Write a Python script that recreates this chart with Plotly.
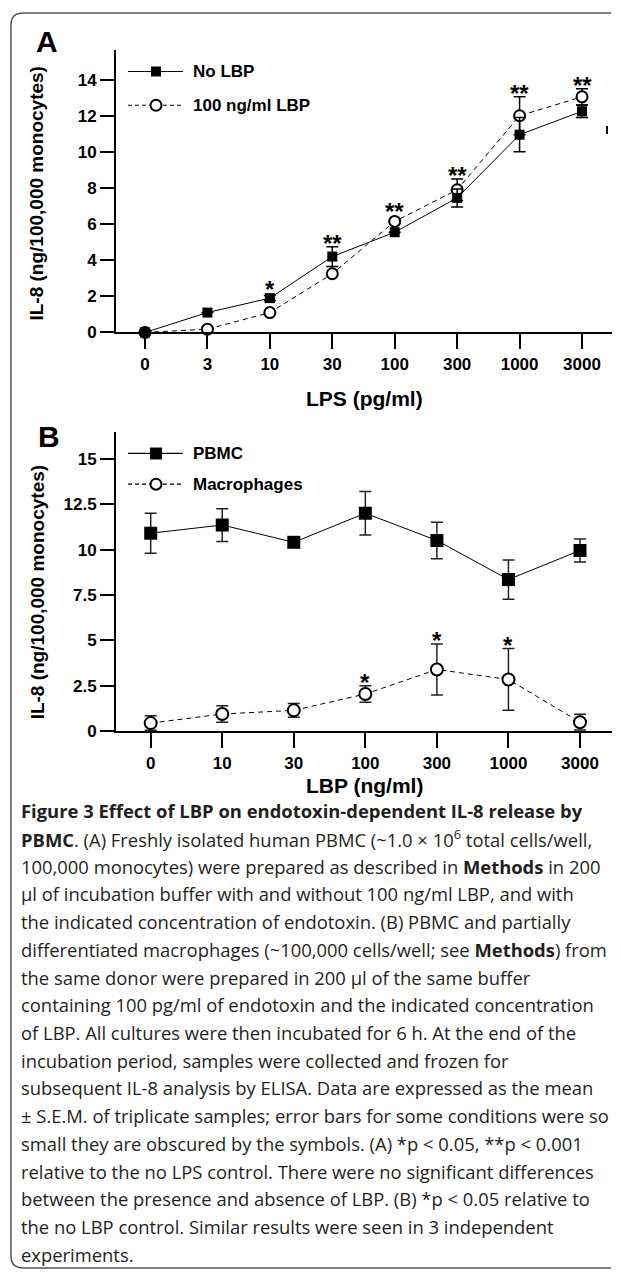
import plotly.graph_objects as go

# ---------------- data ----------------
lps_labels = ["0", "3", "10", "30", "100", "300", "1000", "3000"]
no_lbp = [0, 1.1, 1.9, 4.2, 5.55, 7.45, 10.95, 12.25]
no_lbp_err = [0, 0, 0.15, 0.55, 0, 0.5, 0.95, 0.35]
lbp100 = [0, 0.18, 1.1, 3.25, 6.15, 7.9, 12.0, 13.05]
lbp100_err = [0, 0, 0, 0, 0, 0.6, 1.05, 0.45]
sig_a = ["", "", "*", "**", "**", "**", "**", "**"]

lbp_labels = ["0", "10", "30", "100", "300", "1000", "3000"]
pbmc = [10.9, 11.35, 10.4, 12.0, 10.5, 8.35, 9.95]
pbmc_err = [1.1, 0.9, 0.1, 1.2, 1.0, 1.08, 0.63]
macro = [0.45, 0.95, 1.15, 2.05, 3.4, 2.85, 0.5]
macro_err = [0.4, 0.45, 0.38, 0.45, 1.4, 1.7, 0.43]
sig_b = ["", "", "", "*", "*", "*", ""]

a_yticks = [0, 2, 4, 6, 8, 10, 12, 14]
b_yticks = [0, 2.5, 5, 7.5, 10, 12.5, 15]
b_yticktext = ["0", "2.5", "5", "7.5", "10", "12.5", "15"]

caption_lines = [
    "<b>Figure 3 Effect of LBP on endotoxin-dependent IL-8 release by</b>",
    "<b>PBMC</b>. (A) Freshly isolated human PBMC (~1.0 × 10<sup>6</sup> total cells/well,",
    "100,000 monocytes) were prepared as described in <b>Methods</b> in 200",
    "µl of incubation buffer with and without 100 ng/ml LBP, and with",
    "the indicated concentration of endotoxin. (B) PBMC and partially",
    "differentiated macrophages (~100,000 cells/well; see <b>Methods</b>) from",
    "the same donor were prepared in 200 µl of the same buffer",
    "containing 100 pg/ml of endotoxin and the indicated concentration",
    "of LBP. All cultures were then incubated for 6 h. At the end of the",
    "incubation period, samples were collected and frozen for",
    "subsequent IL-8 analysis by ELISA. Data are expressed as the mean",
    "± S.E.M. of triplicate samples; error bars for some conditions were so",
    "small they are obscured by the symbols. (A) *p &lt; 0.05, **p &lt; 0.001",
    "relative to the no LPS control. There were no significant differences",
    "between the presence and absence of LBP. (B) *p &lt; 0.05 relative to",
    "the no LBP control. Similar results were seen in 3 independent",
    "experiments.",
]

# ---------------- layout helpers ----------------
# the page body keeps an 8px margin, so the figure occupies screen 8..613 x 8..1279
OFF = 8
SW, SH = 621, 1287
W, H = SW - 2 * OFF, SH - 2 * OFF
def fx(p): return (p - OFF) / W
def fy(p): return 1 - (p - OFF) / H

FONT = "Liberation Sans, Arial, sans-serif"
CAP_FONT = "Open Sans, sans-serif"

# panel geometry (screen pixels)
A_X0, A_X1, A_YB, A_YT = 116, 612, 335, 50
B_X0, B_X1, B_YB, B_YT = 116, 612, 737, 435
A_YMAX, B_YMAX = 15.66, 16.49
A_STEP, A_FIRST = 62.43, 145.0
B_STEP, B_FIRST = 71.55, 150.7
a_ppu = (A_YB - A_YT) / A_YMAX
b_ppu = (B_YB - B_YT) / B_YMAX

fig = go.Figure()

# Panel A
fig.add_trace(go.Scatter(
    x=lps_labels, y=lbp100, xaxis="x", yaxis="y", mode="lines+markers",
    line=dict(color="black", width=1, dash="5px,4px"),
    marker=dict(symbol="circle", size=11, color="white", line=dict(color="black", width=2)),
    error_y=dict(type="data", array=lbp100_err, color="black", thickness=1.5, width=6),
    cliponaxis=False, showlegend=False))
fig.add_trace(go.Scatter(
    x=lps_labels, y=no_lbp, xaxis="x", yaxis="y", mode="lines+markers",
    line=dict(color="black", width=1),
    marker=dict(symbol="square", size=10, color="black"),
    error_y=dict(type="data", array=no_lbp_err, color="black", thickness=1.5, width=6),
    cliponaxis=False, showlegend=False))

# Panel B
fig.add_trace(go.Scatter(
    x=lbp_labels, y=macro, xaxis="x2", yaxis="y2", mode="lines+markers",
    line=dict(color="black", width=1, dash="5px,4px"),
    marker=dict(symbol="circle", size=12, color="white", line=dict(color="black", width=2)),
    error_y=dict(type="data", array=macro_err, color="#222", thickness=1.5, width=6),
    cliponaxis=False, showlegend=False))
fig.add_trace(go.Scatter(
    x=lbp_labels, y=pbmc, xaxis="x2", yaxis="y2", mode="lines+markers",
    line=dict(color="black", width=1),
    marker=dict(symbol="square", size=13, color="black"),
    error_y=dict(type="data", array=pbmc_err, color="#222", thickness=1.5, width=6),
    cliponaxis=False, showlegend=False))

axis_common = dict(showgrid=False, zeroline=False, showline=True, linecolor="black",
                   linewidth=2, ticks="outside", tickcolor="black", tickwidth=2,
                   tickfont=dict(family=FONT, size=17, color="black", weight="bold"))

def xrange(x0, x1, first, step):
    return [(x0 - first) / step, (x1 - first) / step]

fig.update_layout(
    width=W, height=H, margin=dict(l=0, r=0, t=0, b=0),
    paper_bgcolor="white", plot_bgcolor="rgba(0,0,0,0)",
    xaxis=dict(domain=[fx(A_X0), fx(A_X1)], anchor="y", type="category",
               range=xrange(A_X0, A_X1, A_FIRST, A_STEP), ticklen=15, **axis_common),
    yaxis=dict(domain=[fy(A_YB), fy(A_YT)], anchor="x", range=[0, A_YMAX],
               tickvals=a_yticks, ticklen=14, **axis_common),
    xaxis2=dict(domain=[fx(B_X0), fx(B_X1)], anchor="y2", type="category",
                range=xrange(B_X0, B_X1, B_FIRST, B_STEP), ticklen=15, **axis_common),
    yaxis2=dict(domain=[fy(B_YB), fy(B_YT)], anchor="x2", range=[0, B_YMAX],
                tickvals=b_yticks, ticktext=b_yticktext, ticklen=14, **axis_common),
)

ann = []
shapes = []

# significance stars: centred ~10px above the highest error bar / marker
STAR_SIZE = 24
def top_px(v, e, ppu, mhalf):
    return v * ppu + max(e * ppu, mhalf)

for i, s in enumerate(sig_a):
    if s:
        t = max(top_px(no_lbp[i], no_lbp_err[i], a_ppu, 5),
                top_px(lbp100[i], lbp100_err[i], a_ppu, 6.5))
        ann.append(dict(x=i, y=t / a_ppu, xref="x", yref="y", text=s, showarrow=False,
                        yanchor="middle", yshift=10 - 0.27 * STAR_SIZE,
                        font=dict(family=FONT, size=STAR_SIZE, color="black", weight="bold")))
for i, s in enumerate(sig_b):
    if s:
        t = top_px(macro[i], macro_err[i], b_ppu, 7)
        ann.append(dict(x=i, y=t / b_ppu, xref="x2", yref="y2", text=s, showarrow=False,
                        yanchor="middle", yshift=10 - 0.27 * STAR_SIZE,
                        font=dict(family=FONT, size=STAR_SIZE, color="black", weight="bold")))

def text_px(x, y, t, size, bold=True, xanchor="center", angle=0, family=FONT, color="black"):
    ann.append(dict(x=fx(x), y=fy(y), xref="paper", yref="paper", text=t, showarrow=False,
                    xanchor=xanchor, yanchor="middle", textangle=angle,
                    font=dict(family=family, size=size, color=color,
                              weight="bold" if bold else "normal")))

# panel letters
text_px(47, 42, "A", 30)
text_px(49, 440, "B", 30)
# axis titles
ytitle = "IL-8 (ng/100,000 monocytes)"
text_px(37, 195, ytitle, 19, angle=-90)
text_px(37, 597, ytitle, 19, angle=-90)
text_px(364, 402, "LPS (pg/ml)", 21)
text_px(364, 792, "LBP (ng/ml)", 21)

# legends
def legend_entry(y, label, kind, msize):
    dash = "solid" if kind == "square" else "4px,3px"
    shapes.append(dict(type="line", xref="paper", yref="paper", x0=fx(128), x1=fx(183),
                       y0=fy(y), y1=fy(y), line=dict(color="black", width=1.2, dash=dash)))
    h = msize / 2
    if kind == "square":
        shapes.append(dict(type="rect", xref="paper", yref="paper", x0=fx(156 - h), x1=fx(156 + h),
                           y0=fy(y + h), y1=fy(y - h), fillcolor="black", line=dict(width=0)))
    else:
        shapes.append(dict(type="circle", xref="paper", yref="paper", x0=fx(156 - h), x1=fx(156 + h),
                           y0=fy(y + h), y1=fy(y - h), fillcolor="white",
                           line=dict(color="black", width=2)))
    text_px(191, y, label, 17, xanchor="left")

legend_entry(72, "No LBP", "square", 10)
legend_entry(106, "100 ng/ml LBP", "circle", 11)
legend_entry(457, "PBMC", "square", 12)
legend_entry(488, "Macrophages", "circle", 11)

# stray tick mark at right of panel A
shapes.append(dict(type="line", xref="paper", yref="paper", x0=fx(607), x1=fx(607),
                   y0=fy(127), y1=fy(135), line=dict(color="black", width=2)))

# frame: open towards the right, built from separate straight pieces and two corners
FRAME = dict(color="#555", width=1.5)
FL, FT, FB, R, FR = 11, 13, 1278, 12, 611
def seg(x0, y0, x1, y1):
    shapes.append(dict(type="line", xref="paper", yref="paper", x0=fx(x0), y0=fy(y0),
                       x1=fx(x1), y1=fy(y1), line=FRAME))
seg(FL + R, FT, FR, FT)
seg(FL, FT + R, FL, FB - R)
seg(FL + R, FB, FR, FB)
def P(x, y): return f"{fx(x):.5f},{fy(y):.5f}"
for (ax, ay, cx, cy, bx, by) in [(FL, FT + R, FL, FT, FL + R, FT), (FL, FB - R, FL, FB, FL + R, FB)]:
    shapes.append(dict(type="path", xref="paper", yref="paper",
                       path=f"M {P(ax, ay)} Q {P(cx, cy)} {P(bx, by)}",
                       fillcolor="rgba(0,0,0,0)", line=FRAME))

# caption
for i, line in enumerate(caption_lines):
    text_px(19, 817 + i * 27.95, line, 18.4, bold=False, xanchor="left",
            family=CAP_FONT, color="#231f20")

fig.update_layout(annotations=ann, shapes=shapes)
fig.write_html("out.html")
